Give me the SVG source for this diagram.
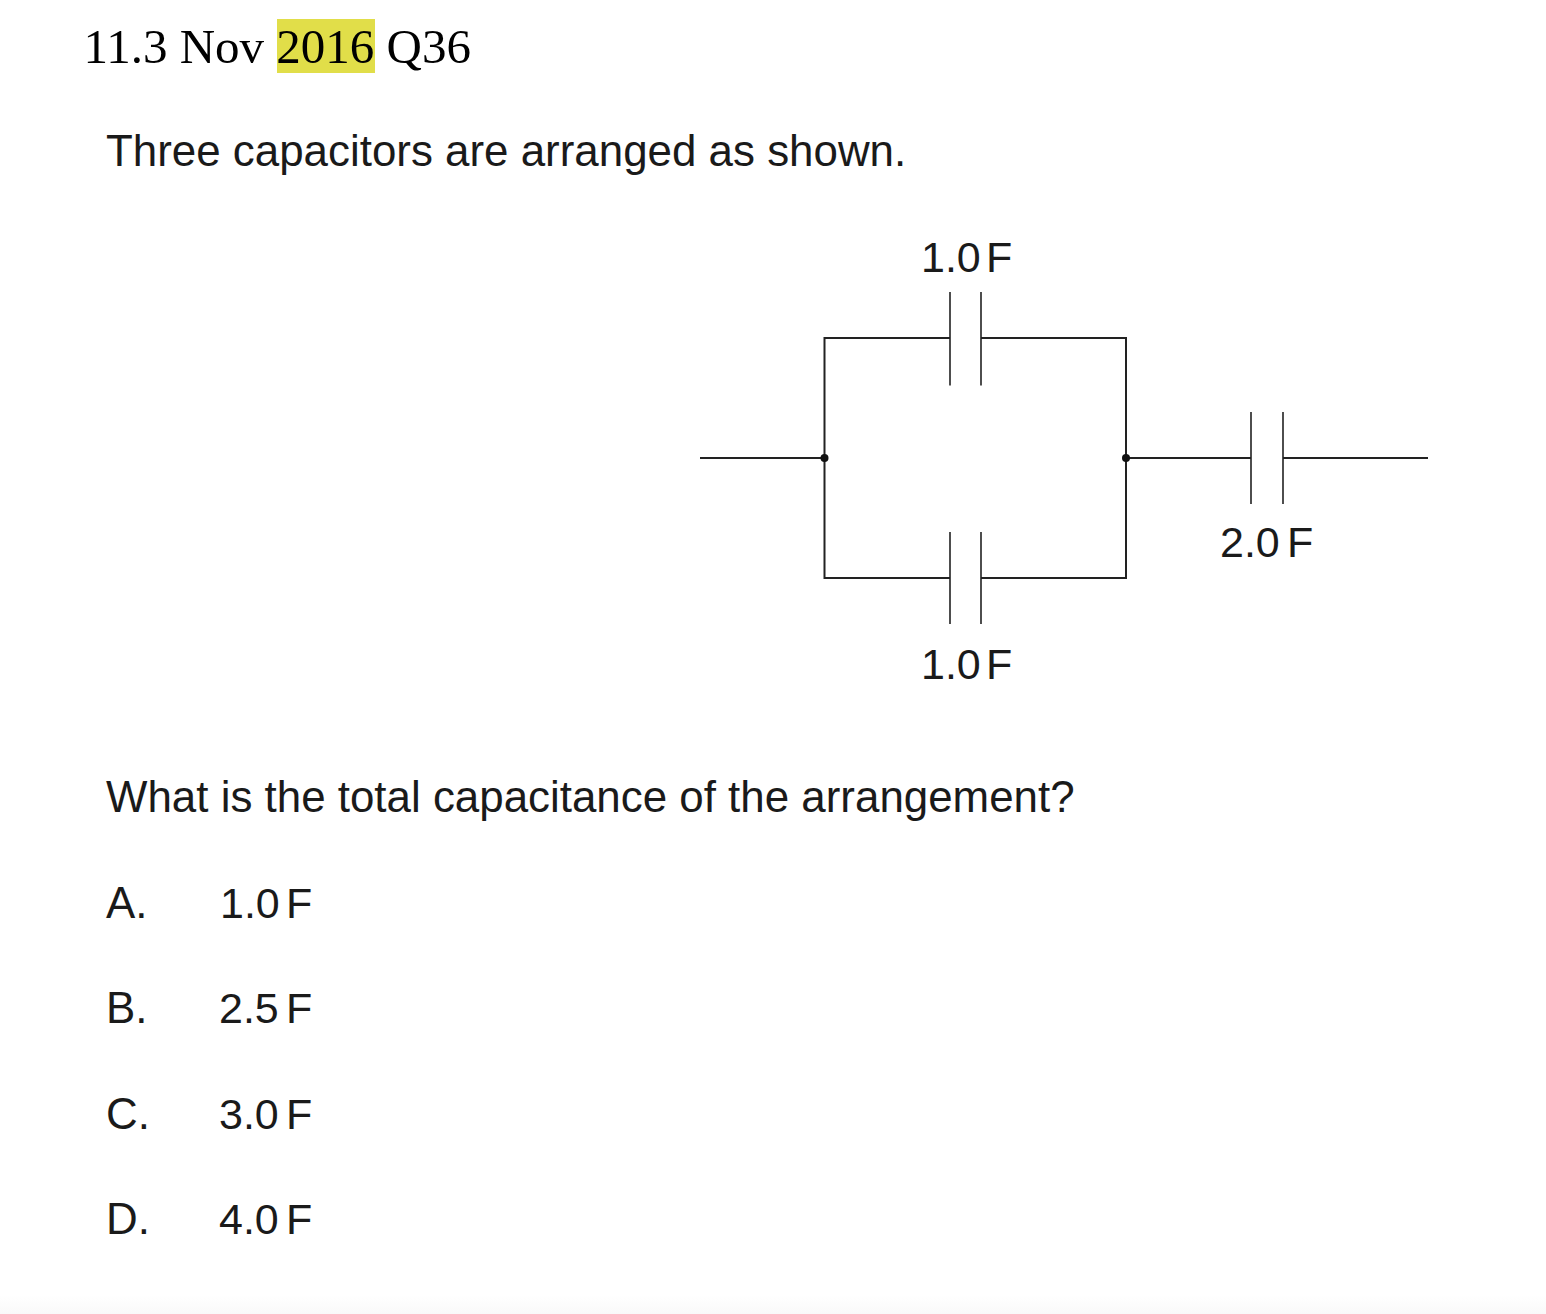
<svg xmlns="http://www.w3.org/2000/svg" width="1546" height="1314" viewBox="0 0 1546 1314">
<defs>
<linearGradient id="fade" x1="0" y1="0" x2="0" y2="1"><stop offset="0" stop-color="#ffffff"/><stop offset="1" stop-color="#f9f9f9"/></linearGradient>
</defs>
<style>
.t{font-family:"Liberation Sans",Arial,sans-serif;font-size:43.9px;fill:#1a1a1a}
.v{font-family:"Liberation Sans",Arial,sans-serif;font-size:43px;fill:#1a1a1a}
.h{font-family:"Liberation Serif","Times New Roman",serif;font-size:49px;fill:#000}
.w{fill:none;stroke:#222;stroke-width:2}
.p{fill:none;stroke:#222;stroke-width:1.6}
</style>
<rect width="1546" height="1314" fill="#fff"/>
<rect y="1295" width="1546" height="19" fill="url(#fade)"/>
<rect x="277" y="19" width="98" height="54" fill="#e1de49"/>
<text id="title" class="h" x="83.5" y="63">11.3 Nov 2016 Q36</text>
<text id="question1" class="t" x="106" y="166">Three capacitors are arranged as shown.</text>
<g id="connectors">
<path class="w" d="M950 338H824.500V578H950M981 338H1126V578H981"/>
<path class="w" d="M700 458H824.500M1126 458H1251M1283 458H1428"/>
</g>
<g id="capacitor-top">
<path class="p" d="M950 292V385.500M981 292V385.500"/>
<text class="v" x="921" y="271.500">1.0</text><text class="v" x="986" y="271.500">F</text>
</g>
<g id="capacitor-bottom">
<path class="p" d="M950 532V624M981 532V624"/>
<text class="v" x="921" y="678.500">1.0</text><text class="v" x="986" y="678.500">F</text>
</g>
<g id="capacitor-right">
<path class="p" d="M1251 412V504M1283 412V504"/>
<text class="v" x="1220" y="556.500">2.0</text><text class="v" x="1287" y="556.500">F</text>
</g>
<g id="junction-left"><circle cx="824.500" cy="458" r="4" fill="#111"/></g>
<g id="junction-right"><circle cx="1126" cy="458" r="4" fill="#111"/></g>
<text id="question2" class="t" x="106" y="812">What is the total capacitance of the arrangement?</text>
<g id="option-a"><text class="t" x="106" y="918">A.</text><text class="v" x="220" y="917.500">1.0</text><text class="v" x="286" y="917.500">F</text></g>
<g id="option-b"><text class="t" x="106" y="1023">B.</text><text class="v" x="219" y="1022.500">2.5</text><text class="v" x="286" y="1022.500">F</text></g>
<g id="option-c"><text class="t" x="106" y="1129">C.</text><text class="v" x="219" y="1128.500">3.0</text><text class="v" x="286" y="1128.500">F</text></g>
<g id="option-d"><text class="t" x="106" y="1234">D.</text><text class="v" x="219" y="1233.500">4.0</text><text class="v" x="286" y="1233.500">F</text></g>
</svg>
